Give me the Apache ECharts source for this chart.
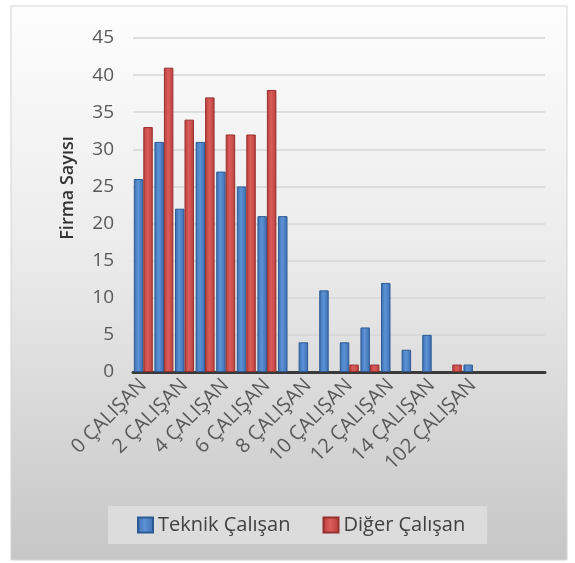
<!DOCTYPE html>
<html>
<head>
<meta charset="utf-8">
<script src="https://cdn.jsdelivr.net/npm/echarts@6/dist/echarts.min.js"></script>
<style>
  html, body { margin: 0; padding: 0; background: #fff; }
  #chart { width: 575px; height: 563px; }
</style>
</head>
<body>
<div id="chart"></div>
<script>
// kategoriler (son üç satır boş)
var categories = [
  '0 ÇALIŞAN', '1 ÇALIŞAN', '2 ÇALIŞAN', '3 ÇALIŞAN', '4 ÇALIŞAN',
  '5 ÇALIŞAN', '6 ÇALIŞAN', '7 ÇALIŞAN', '8 ÇALIŞAN', '9 ÇALIŞAN',
  '10 ÇALIŞAN', '11 ÇALIŞAN', '12 ÇALIŞAN', '13 ÇALIŞAN', '14 ÇALIŞAN',
  '15 ÇALIŞAN', '102 ÇALIŞAN', '', '', ''
];
var teknikValues = [26, 31, 22, 31, 27, 25, 21, 21, 4, 11, 4, 6, 12, 3, 5, 0, 1, 0, 0, 0];
var digerValues  = [33, 41, 34, 37, 32, 32, 38, 0, 0, 0, 1, 1, 0, 0, 0, 1, 0, 0, 0, 0];
var seriesNames = ['Teknik Çalışan', 'Diğer Çalışan'];
var yTicks = { min: 0, max: 45, interval: 5 };

var FONT = 'Open Sans';
var chartDom = document.getElementById('chart');
var myChart = echarts.init(chartDom, null, { renderer: 'canvas' });

function barFill(dark, light) {
  return new echarts.graphic.LinearGradient(0, 0, 1, 0, [
    { offset: 0, color: dark },
    { offset: 0.45, color: light },
    { offset: 1, color: dark }
  ]);
}

// 0 olan çubuklarda kenarlık çizilmesin (Excel'de görünmüyor)
function toBarData(values) {
  return values.map(function (v) {
    return v === 0 ? { value: v, itemStyle: { borderWidth: 0, opacity: 0 } } : v;
  });
}

var option = {
  animation: false,
  textStyle: { fontFamily: FONT },
  graphic: [
    {
      // grafik alanı arka planı
      type: 'rect',
      z: -10,
      shape: { x: 11, y: 6, width: 556, height: 554 },
      style: {
        fill: new echarts.graphic.LinearGradient(0, 0, 0, 1, [
          { offset: 0, color: '#fdfdfd' },
          { offset: 0.45, color: '#ebebeb' },
          { offset: 1, color: '#c6c6c6' }
        ]),
        stroke: '#d4d4d4',
        lineWidth: 1
      }
    },
    {
      type: 'text',
      x: 68,
      y: 188,
      rotation: Math.PI / 2,
      style: {
        text: 'Firma Sayısı',
        fill: '#333333',
        font: '600 18px ' + FONT,
        align: 'center',
        verticalAlign: 'middle'
      }
    }
  ],
  grid: {
    left: 133,
    right: 30,
    top: 38,
    bottom: 191,
    containLabel: false
  },
  legend: {
    data: seriesNames,
    left: 108,
    top: 506,
    icon: 'rect',
    itemWidth: 15,
    itemHeight: 15,
    itemGap: 32,
    backgroundColor: '#dcdcdc',
    padding: [9, 22, 9, 29],
    textStyle: { fontSize: 20, color: '#404040', fontFamily: FONT }
  },
  xAxis: {
    type: 'category',
    data: categories,
    axisLine: { lineStyle: { color: '#3a3a3a', width: 3 } },
    axisTick: { show: false },
    axisLabel: {
      interval: 1,
      rotate: 45,
      fontSize: 20,
      color: '#595959',
      margin: 10
    }
  },
  yAxis: {
    type: 'value',
    min: yTicks.min,
    max: yTicks.max,
    interval: yTicks.interval,
    axisLine: { show: false },
    axisTick: { show: false },
    axisLabel: { fontSize: 19, color: '#595959', margin: 19 },
    splitLine: { lineStyle: { color: '#d6d6d6', width: 1.5 } }
  },
  series: [
    {
      name: seriesNames[0],
      type: 'bar',
      data: toBarData(teknikValues),
      barGap: '0%',
      barCategoryGap: '8%',
      itemStyle: {
        color: barFill('#3d6db0', '#5c93d6'),
        borderColor: '#2d5a94',
        borderWidth: 1
      }
    },
    {
      name: seriesNames[1],
      type: 'bar',
      data: toBarData(digerValues),
      itemStyle: {
        color: barFill('#b83e3c', '#db5d5a'),
        borderColor: '#962f2d',
        borderWidth: 1
      }
    }
  ]
};
myChart.setOption(option);
</script>
</body>
</html>
